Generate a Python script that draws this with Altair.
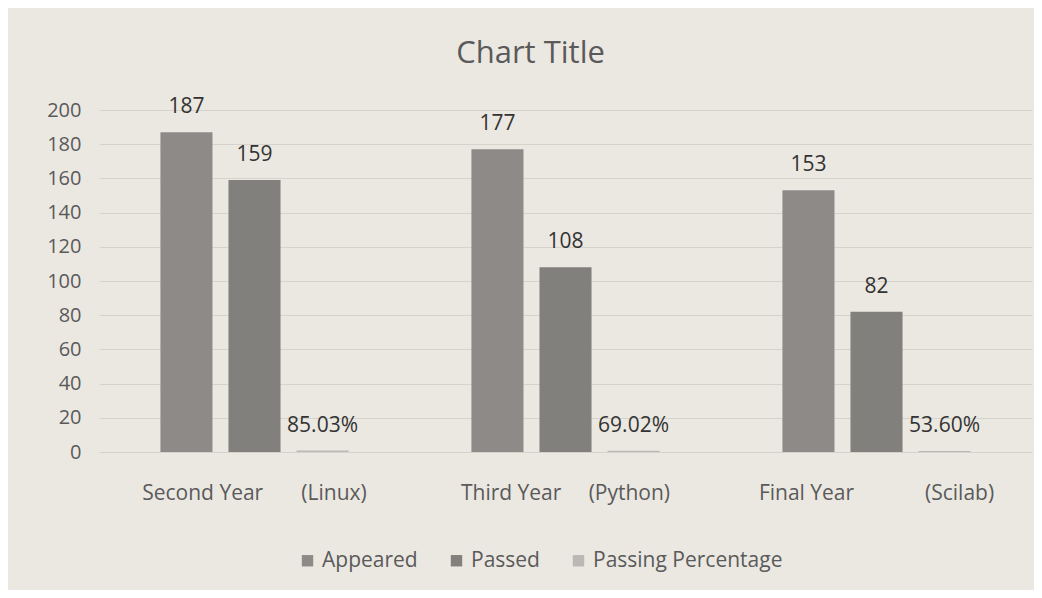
import altair as alt
import pandas as pd

NB = "\u00a0"
categories = [
    "Second Year" + NB * 7 + "(Linux)",
    "Third Year" + NB * 5 + "(Python)",
    "Final Year" + NB * 13 + "(Scilab)",
]
series = ["Appeared", "Passed", "Passing Percentage"]
appeared = [187, 177, 153]
passed = [159, 108, 82]
passing_pct = [0.8503, 0.6902, 0.5360]
colors = ["#8d8a87", "#82807d", "#bab8b4"]

rows = []
for i, c in enumerate(categories):
    rows.append({"cat": c, "series": "Appeared", "value": appeared[i], "label": str(appeared[i])})
    rows.append({"cat": c, "series": "Passed", "value": passed[i], "label": str(passed[i])})
    rows.append({"cat": c, "series": "Passing Percentage", "value": passing_pct[i],
                 "label": f"{passing_pct[i] * 100:.2f}%"})
df = pd.DataFrame(rows)

FONT = "Open Sans"
TXT = "#5a5a5a"

x = alt.X("cat:N", sort=categories, title=None,
          scale=alt.Scale(paddingInner=0.395, paddingOuter=0.1975),
          axis=alt.Axis(labelAngle=0, labelFontSize=21, labelColor=TXT, labelFont=FONT,
                        labelPadding=30, labelLimit=0, ticks=False, domain=False, grid=False))
xo = alt.XOffset("series:N", sort=series,
                 scale=alt.Scale(paddingInner=0.235, paddingOuter=0))
y = alt.Y("value:Q", title=None,
          scale=alt.Scale(domain=[0, 200], nice=False),
          axis=alt.Axis(values=list(range(0, 201, 20)), labelFontSize=20, labelColor=TXT,
                        labelFont=FONT, labelPadding=18, ticks=False, domain=False,
                        gridColor="#d6d3cd", gridWidth=1))

base = alt.Chart(df)

bars = base.mark_bar().encode(
    x=x, xOffset=xo, y=y,
    color=alt.Color("series:N", sort=series, title=None,
                    scale=alt.Scale(domain=series, range=colors),
                    legend=alt.Legend(orient="none", legendX=198, legendY=440,
                                      direction="horizontal", symbolType="square",
                                      symbolSize=130, symbolStrokeWidth=0,
                                      labelFontSize=21, labelColor=TXT, labelFont=FONT,
                                      labelLimit=0, columnPadding=28, labelOffset=4)),
)

texts = base.mark_text(dy=-19, baseline="alphabetic", fontSize=21, color="#333333",
                       font=FONT).encode(
    x=x, xOffset=xo, y=y, text="label:N"
)

chart = alt.layer(bars, texts).properties(
    width=933, height=342,
    title=alt.TitleParams("Chart Title", fontSize=31, color=TXT, font=FONT,
                          fontWeight="normal", offset=26, dx=-35),
    autosize=alt.AutoSizeParams(type="none"),
    padding={"left": 91, "top": 102, "right": 2, "bottom": 138},
    background="#ebe8e2",
).configure_view(stroke=None)

chart.save("out.html", embed_options={"renderer": "svg", "actions": False})
